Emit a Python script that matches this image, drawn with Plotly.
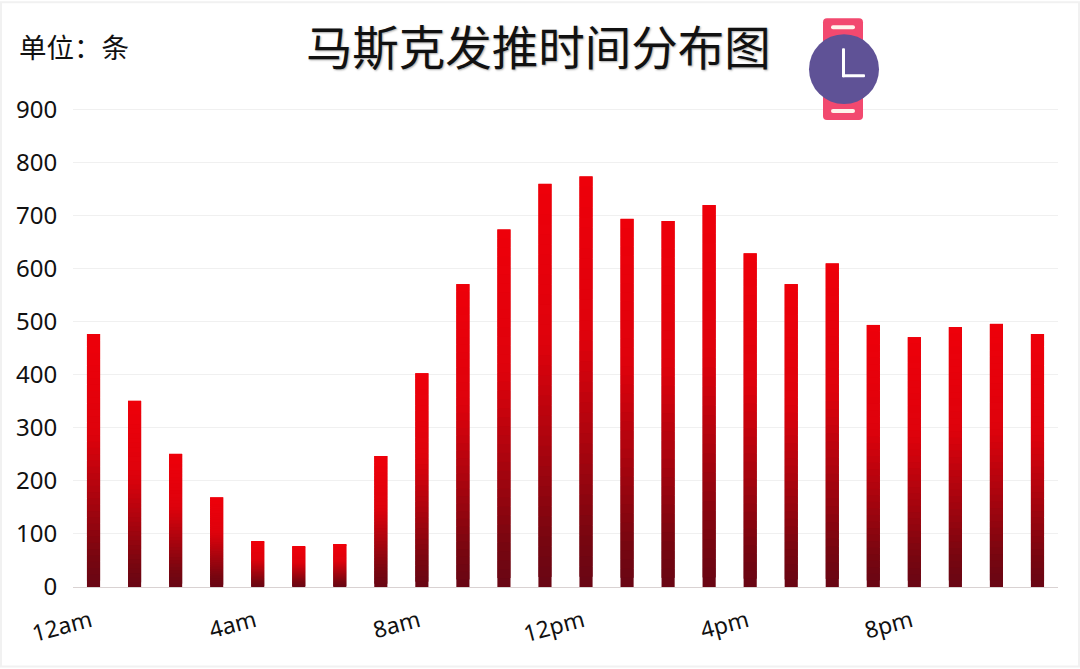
import plotly.graph_objects as graph_objects

WIDTH = 1080
HEIGHT = 669
PLOT_LEFT = 73
PLOT_RIGHT = 1058
PLOT_TOP = 107.9
PLOT_BOTTOM = 587.5

hours = ['12am', '1am', '2am', '3am', '4am', '5am', '6am', '7am', '8am', '9am', '10am', '11am',
         '12pm', '1pm', '2pm', '3pm', '4pm', '5pm', '6pm', '7pm', '8pm', '9pm', '10pm', '11pm']
counts = [477, 351, 251, 169, 86, 76, 81, 247, 403, 571, 674, 760,
          774, 694, 690, 720, 629, 571, 610, 494, 471, 490, 496, 477]
tick_hours = ['12am', '4am', '8am', '12pm', '4pm', '8pm']
y_ticks = [0, 100, 200, 300, 400, 500, 600, 700, 800, 900]

title_text = '马斯克发推时间分布图'
unit_text = '单位：条'

# 柱子的渐变：从底部(0)到顶部(1)
gradient_stops = [(0.0, (104, 6, 20)), (0.12, (120, 6, 16)), (0.35, (170, 4, 14)),
                  (0.6, (222, 2, 12)), (1.0, (238, 0, 10))]
SLICES = 40


def gradient_color(t):
    for (t0, c0), (t1, c1) in zip(gradient_stops, gradient_stops[1:]):
        if t <= t1:
            k = (t - t0) / (t1 - t0)
            return 'rgb({},{},{})'.format(*[round(a + (b - a) * k) for a, b in zip(c0, c1)])
    return 'rgb(238,0,10)'


# paperはプロット領域基準なのでピクセルから変換する
def px_x(x):
    return (x - PLOT_LEFT) / (PLOT_RIGHT - PLOT_LEFT)


def px_y(y):
    return (PLOT_BOTTOM - y) / (PLOT_BOTTOM - PLOT_TOP)


def add_rounded_rect(figure, x0, y0, x1, y1, r, color):
    xa, xb, ya, yb = px_x(x0), px_x(x1), px_y(y0), px_y(y1)
    rx, ry = r / (PLOT_RIGHT - PLOT_LEFT), r / (PLOT_BOTTOM - PLOT_TOP)
    path = (f'M {xa + rx} {ya} L {xb - rx} {ya} Q {xb} {ya} {xb} {ya - ry} '
            f'L {xb} {yb + ry} Q {xb} {yb} {xb - rx} {yb} '
            f'L {xa + rx} {yb} Q {xa} {yb} {xa} {yb + ry} '
            f'L {xa} {ya - ry} Q {xa} {ya} {xa + rx} {ya} Z')
    figure.add_shape(type = 'path', path = path, xref = 'paper', yref = 'paper',
                     fillcolor = color, line = dict(width = 0), layer = 'above')


def add_watch_icon(figure):
    add_rounded_rect(figure, 823, 18, 863, 120, 4, '#f2496f')
    add_rounded_rect(figure, 831, 25, 855, 29, 2, '#fff4ec')
    add_rounded_rect(figure, 831, 109, 855, 113, 2, '#fff4ec')
    figure.add_shape(type = 'circle', xref = 'paper', yref = 'paper',
                     x0 = px_x(809), x1 = px_x(879), y0 = px_y(34), y1 = px_y(104),
                     fillcolor = '#5f5296', line = dict(width = 0), layer = 'above')
    add_rounded_rect(figure, 842, 48, 845, 77, 1, '#ffffff')
    add_rounded_rect(figure, 842, 74, 865, 77, 1, '#ffffff')


figure = graph_objects.Figure()

# 渐变用多段柱子表现（每段与上一段稍微重叠，避免缝隙）
for i in range(SLICES):
    span = min(2, SLICES - i)
    figure.add_trace(graph_objects.Bar(
        x = hours,
        y = [v * span / SLICES for v in counts],
        base = [v * i / SLICES for v in counts],
        marker = dict(color = gradient_color((i + 0.5) / SLICES), line = dict(width = 0)),
        showlegend = False, hoverinfo = 'skip'))

# 外框
figure.add_shape(type = 'rect', xref = 'paper', yref = 'paper',
                 x0 = px_x(1), x1 = px_x(1079), y0 = px_y(2), y1 = px_y(667),
                 line = dict(color = '#f1f1f1', width = 2), layer = 'below')

add_watch_icon(figure)

figure.add_annotation(text = unit_text, xref = 'paper', yref = 'paper',
                      x = px_x(17), y = px_y(46), xanchor = 'left', yanchor = 'middle', showarrow = False,
                      font = dict(family = 'Noto Sans CJK SC', size = 27.5, color = '#111111'))

figure.update_layout(
    width = WIDTH, height = HEIGHT,
    margin = dict(l = PLOT_LEFT, r = WIDTH - PLOT_RIGHT, t = PLOT_TOP, b = HEIGHT - PLOT_BOTTOM),
    paper_bgcolor = 'white', plot_bgcolor = 'white',
    barmode = 'overlay', bargap = 0.68,
    title = dict(text = title_text, x = 0.4985, xref = 'container', xanchor = 'center',
                 y = 1 - 49 / HEIGHT, yref = 'container', yanchor = 'middle',
                 font = dict(family = 'Noto Sans CJK SC', size = 46.5, color = '#111111',
                             shadow = '1px 1px 2px #aaaaaa')),
    font = dict(family = 'Noto Sans', color = '#111111'),
)
figure.update_xaxes(type = 'category', categoryorder = 'array', categoryarray = hours,
                    tickmode = 'array', tickvals = tick_hours, ticktext = tick_hours,
                    tickangle = -15, ticks = 'outside', ticklen = 11, tickcolor = 'rgba(0,0,0,0)',
                    ticklabelshift = -3, showgrid = False,
                    showline = True, linecolor = '#d9d2d2', linewidth = 1,
                    tickfont = dict(family = 'Noto Sans', size = 23, color = '#111111'))
# 上端の900の罫線が消えないよう範囲を少しだけ広げる
figure.update_yaxes(range = [0, 903], tickmode = 'array', tickvals = y_ticks,
                    ticks = 'outside', ticklen = 10, tickcolor = 'rgba(0,0,0,0)',
                    showgrid = True, gridcolor = '#f0f0f0', gridwidth = 1,
                    zeroline = False, showline = False,
                    tickfont = dict(family = 'Noto Sans', size = 24, color = '#111111'))

figure.write_html('out.html', config = dict(displayModeBar = False),
                  post_script = "document.body.style.margin = '0';")
